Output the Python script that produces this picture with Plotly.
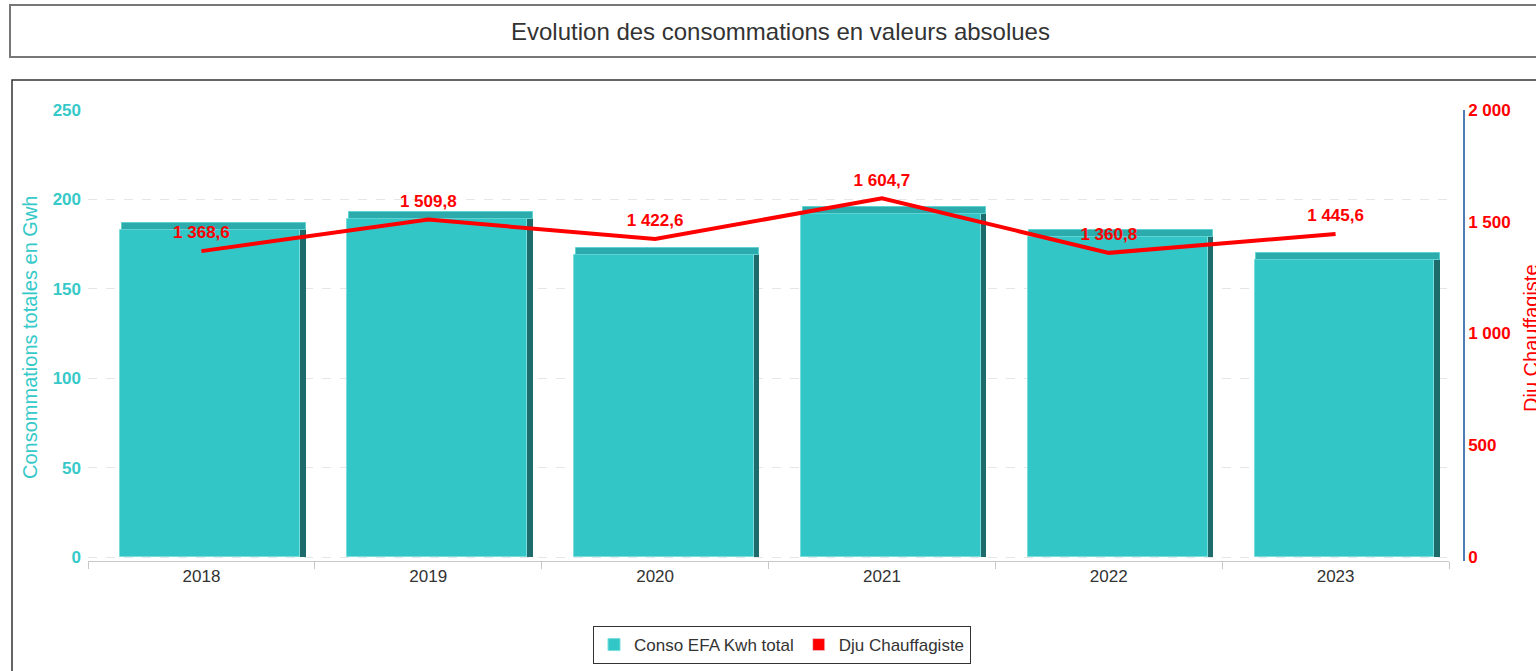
import plotly.graph_objects as go

# ---- data ----
years = ["2018", "2019", "2020", "2021", "2022", "2023"]
conso = [183, 189, 169, 192, 179, 166]          # Consommations totales en Gwh
dju = [1368.6, 1509.8, 1422.6, 1604.7, 1360.8, 1445.6]  # Dju Chauffagiste
left_ticks = [0, 50, 100, 150, 200, 250]
right_ticks = [0, 500, 1000, 1500, 2000]

# ---- geometry helpers (pixel -> paper) ----
W, H = 1536, 671
L, R, T, B = 88, 72, 110, 110
pw, ph = W - L - R, H - T - B


def px(x):
    return (x - L) / pw


def py(y):
    return (H - B - y) / ph


FONT = "Liberation Sans, Arial, sans-serif"
TEAL = "#33C6C6"
TEAL_TXT = "#36C9C9"
RED = "#FF0000"
TOP_DEPTH = 4  # thickness of 3D top face (style)

fig = go.Figure()

# front face of bars
fig.add_trace(go.Bar(
    x=years, y=conso, name="Conso EFA Kwh total",
    offset=-0.357, width=0.793,
    marker=dict(color=TEAL, line=dict(color="#7ADDDD", width=1)),
    hovertemplate="%{x}: %{y}<extra></extra>",
))
# dummy legend entry (square marker) for the line series
fig.add_trace(go.Bar(
    x=[None], y=[None], name="Dju Chauffagiste",
    marker=dict(color=RED), yaxis="y2",
))
# side face (3D effect)
fig.add_trace(go.Bar(
    x=years, y=[v + TOP_DEPTH for v in conso],
    offset=0.436, width=0.024,
    marker=dict(color="#1D6B6B", line=dict(width=0)),
    showlegend=False, hoverinfo="skip",
))
# top face (3D effect)
fig.add_trace(go.Bar(
    x=years, y=[TOP_DEPTH] * len(conso), base=conso,
    offset=-0.35, width=0.81,
    marker=dict(color="#2BABAB", line=dict(color="#5FD3D3", width=1)),
    showlegend=False, hoverinfo="skip",
))
# line series
fig.add_trace(go.Scatter(
    x=years, y=dju, yaxis="y2", mode="lines+markers+text",
    name="Dju Chauffagiste",
    line=dict(color=RED, width=4),
    marker=dict(size=12, color="rgba(0,0,0,0)"),
    texttemplate="%{y:,.1f}", textposition="top center",
    textfont=dict(color=RED, size=17, family=FONT, weight="bold"),
    showlegend=False, cliponaxis=False,
))

y_min = -(561 - 557) * 250 / (557 - 110)
y2_min = -(561 - 557) * 2000 / (557 - 110)

fig.update_layout(
    width=W, height=H,
    margin=dict(l=L, r=R, t=T, b=B, autoexpand=False),
    paper_bgcolor="white", plot_bgcolor="white",
    font=dict(family=FONT, color="#333333"),
    separators=", ",
    barmode="overlay",
    bargap=0,
    showlegend=True,
    legend=dict(
        orientation="h", x=px(782), xanchor="center", y=py(626), yanchor="top",
        bordercolor="#333333", borderwidth=1,
        font=dict(size=17, color="#333333", family=FONT),
        traceorder="normal",
    ),
    xaxis=dict(
        domain=[0, px(1449)], type="category", range=[-0.5, 5.5],
        showline=True, linecolor="#C8C8C8", linewidth=1,
        ticks="outside", tickson="boundaries", ticklen=7, tickcolor="#C8C8C8",
        tickfont=dict(size=17, color="#333333", family=FONT),
        showgrid=False, zeroline=False,
    ),
    yaxis=dict(
        range=[y_min, 250], tickvals=left_ticks,
        tickfont=dict(size=17, color=TEAL_TXT, family=FONT, weight="bold"),
        showgrid=True, gridcolor="#E6E6E6", griddash="dash", gridwidth=1,
        zeroline=False, showline=False, ticks="", ticklabelstandoff=6,
    ),
    yaxis2=dict(
        overlaying="y", side="right", anchor="free", position=1,
        range=[y2_min, 2000], tickvals=right_ticks, tickformat=",.0f",
        tickfont=dict(size=17, color=RED, family=FONT, weight="bold"),
        showgrid=False, zeroline=False,
        showline=True, linecolor="#4F7CB3", linewidth=1.5, ticks="",
    ),
    shapes=[
        # title box
        dict(type="rect", xref="paper", yref="paper",
             x0=px(10), x1=px(1545), y0=py(57), y1=py(5),
             line=dict(color="#777777", width=2), fillcolor="white", layer="below"),
        # chart frame
        dict(type="rect", xref="paper", yref="paper",
             x0=px(12), x1=px(1545), y0=py(690), y1=py(80),
             line=dict(color="#333333", width=1.5), fillcolor="rgba(0,0,0,0)", layer="below"),
    ],
    annotations=[
        dict(text="Evolution des consommations en valeurs absolues",
             xref="paper", yref="paper", x=px(781), y=py(31),
             xanchor="center", yanchor="middle", showarrow=False,
             font=dict(size=24, color="#333333", family=FONT)),
        dict(text="Consommations totales en Gwh",
             xref="paper", yref="paper", x=px(30), y=py(338),
             xanchor="center", yanchor="middle", showarrow=False, textangle=-90,
             font=dict(size=20, color=TEAL_TXT, family=FONT)),
        dict(text="Dju Chauffagiste",
             xref="paper", yref="paper", x=px(1531), y=py(338),
             xanchor="center", yanchor="middle", showarrow=False, textangle=-90,
             font=dict(size=20, color=RED, family=FONT)),
    ],
)

fig.write_html("out.html", config={"displayModeBar": False},
               post_script="document.body.style.margin='0px';")
